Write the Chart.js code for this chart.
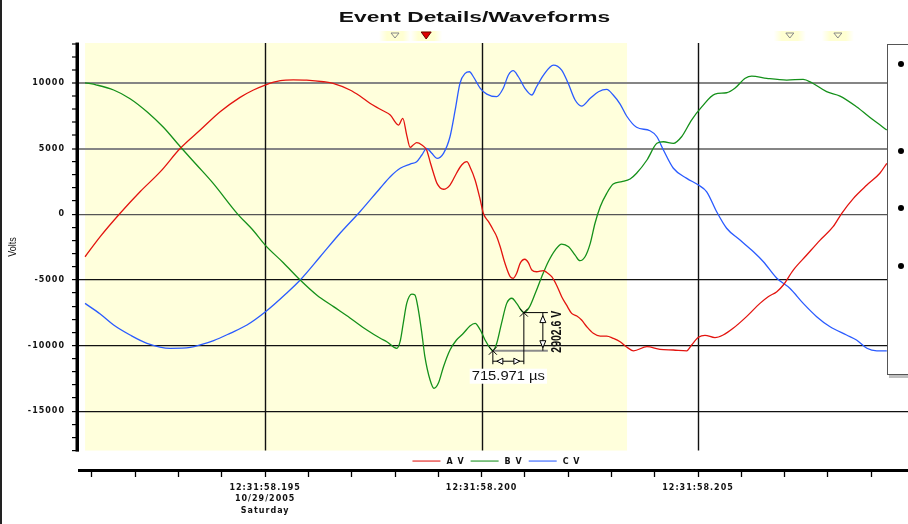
<!DOCTYPE html>
<html>
<head>
<meta charset="utf-8">
<script src="https://cdn.jsdelivr.net/npm/chart.js@4.4.1/dist/chart.umd.min.js"></script>
<style>
  html, body { margin: 0; padding: 0; background: #fff; overflow: hidden; }
  #c { display: block; }
</style>
</head>
<body>
<canvas id="c" width="908" height="524"></canvas>
<script>
// Time values are milliseconds after 12:31:58.000; voltages in volts.
const aTime = [190.84,191.19,191.65,192.11,192.58,193.04,193.50,193.96,194.42,194.73,195.00,195.35,195.65,195.96,196.35,196.57,196.96,197.19,197.42,197.66,197.89,198.08,198.18,198.27,198.35,198.42,198.50,198.62,198.73,198.81,198.89,198.97,199.12,199.27,199.42,199.54,199.66,199.73,199.85,199.97,200.04,200.16,200.27,200.35,200.43,200.54,200.66,200.73,200.81,200.89,201.00,201.08,201.16,201.27,201.43,201.50,201.62,201.73,201.85,201.96,202.08,202.20,202.31,202.43,202.58,202.74,202.89,203.04,203.20,203.35,203.51,203.82,204.12,204.43,204.74,204.85,205.01,205.16,205.39,205.58,205.81,206.12,206.43,206.62,206.82,206.97,207.20,207.51,207.82,208.12,208.32,208.59,208.90,209.20,209.36];
const aVolts = [-3240,-1710,70,1710,3240,5020,6410,7800,8900,9460,9840,10170,10230,10210,10090,9970,9460,9000,8450,7990,7550,6790,7300,6030,5090,5270,5450,5270,4890,4000,3120,2350,1900,2220,3120,3750,4000,3620,2610,1080,70,-570,-1200,-1710,-2480,-3740,-4760,-4880,-4500,-3740,-3430,-3690,-4250,-4380,-4300,-4420,-4760,-5390,-6280,-6910,-7550,-7750,-8060,-8570,-9070,-9280,-9280,-9450,-9710,-10110,-10400,-10090,-10290,-10340,-10400,-9960,-9370,-9220,-9400,-9200,-8690,-7800,-6790,-6280,-5900,-5390,-4250,-3110,-1970,-950,70,1210,2220,3120,3880];

const bTime = [190.84,191.11,191.50,191.88,192.29,192.65,193.04,193.42,193.80,194.35,194.73,195.00,195.42,195.81,196.19,196.58,196.96,197.35,197.66,197.81,198.04,198.12,198.19,198.27,198.39,198.46,198.54,198.62,198.69,198.81,198.90,199.00,199.12,199.27,199.42,199.58,199.73,199.85,199.97,200.08,200.20,200.26,200.35,200.46,200.58,200.70,200.81,200.98,201.10,201.24,201.39,201.54,201.70,201.85,202.01,202.16,202.27,202.39,202.51,202.62,202.74,202.89,203.04,203.24,203.43,203.58,203.82,204.05,204.20,204.43,204.62,204.85,205.09,205.39,205.66,205.85,206.09,206.24,206.59,207.05,207.43,207.63,207.97,208.28,208.66,209.05,209.36];
const bVolts = [10010,9840,9460,8800,7750,6620,5140,3750,2350,70,-1260,-2350,-3690,-5010,-6150,-7040,-7900,-8820,-9450,-9710,-10210,-9660,-8310,-6790,-6080,-6150,-7300,-9070,-10850,-12630,-13260,-12880,-11610,-10340,-9580,-9070,-8510,-8310,-8820,-9580,-10210,-10395,-9830,-8310,-6790,-6400,-6790,-7490,-7100,-6020,-4760,-3620,-2730,-2270,-2480,-3110,-3540,-3240,-2220,-690,570,1590,2300,2480,2680,3120,4130,5400,5520,5400,5900,7170,8190,9150,9250,9590,10350,10520,10350,10220,10270,10010,9330,9000,8190,7170,6410];

const cTime = [190.84,191.19,191.50,191.88,192.27,192.81,193.27,193.50,193.81,194.19,194.58,195.00,195.50,195.81,196.27,196.73,197.19,197.66,197.89,198.12,198.35,198.50,198.62,198.73,198.85,198.97,199.12,199.27,199.39,199.50,199.62,199.72,199.81,199.97,200.12,200.35,200.50,200.62,200.73,200.85,201.00,201.16,201.27,201.43,201.66,201.85,202.00,202.16,202.31,202.51,202.70,202.89,203.04,203.20,203.35,203.58,203.89,204.05,204.20,204.43,204.74,205.01,205.20,205.43,205.66,205.97,206.28,206.51,206.82,207.12,207.43,207.74,208.05,208.43,208.66,208.90,209.13,209.36];
const cVolts = [-6790,-7600,-8440,-9200,-9830,-10210,-10140,-9960,-9630,-9070,-8440,-7450,-6000,-5010,-3240,-1450,190,2000,2860,3500,3820,4000,4510,5020,4640,4260,4640,5900,7940,9970,10730,10850,10470,9590,9150,8950,9590,10600,10930,10470,9590,9080,9710,10600,11360,10980,9970,8700,8240,8830,9330,9510,9080,8390,7480,6620,6360,5900,4890,3500,2730,2220,1710,190,-1070,-1970,-2860,-3620,-4880,-5640,-6790,-7800,-8570,-9200,-9580,-10210,-10400,-10400];

const seriesNames = ['A V', 'B V', 'C V'];

// Time axis: labelled ticks and their text
const xLabelMs = [195, 200, 205];
const xLabelText = [['12:31:58.195', '10/29/2005', 'Saturday'], ['12:31:58.200'], ['12:31:58.205']];
const xTickFirst = 191, xTickLast = 209;           // minor tick every 1 ms
const xRange = [190.70, 209.85];

// Voltage axis
const yTickFirst = -18000, yTickLast = 13000;      // minor tick every 1000 V
const yLabelStep = 5000;
const yRange = [-19480, 13040];

// Shaded capture window and cursor markers along the top
const highlightMs = [190.84, 203.36];
const cursorMs = [198.00, 198.72, 207.12, 208.23];
const cursorActive = [false, true, false, false];

// Delta measurement on phase B
const measStartMs = 200.26;
const measStartV = -10395;
const measDtUs = 715.971;
const measDv = 2902.6;

const colors = ['#e3140f', '#14901a', '#2a5bff'];
const TICK_FONT = '"DejaVu Sans", "Liberation Sans", Arial, sans-serif';
const TEXT_FONT = '"Liberation Sans", Arial, sans-serif';

function range(a, b, step) { const out = []; for (let v = a; v <= b; v += step) out.push(v); return out; }
function pts(ts, vs) { return ts.map((t, i) => ({ x: t, y: vs[i] })); }

function scaledText(ctx, text, x, y, font, sx, align, rot) {
  ctx.save();
  ctx.translate(x, y);
  ctx.scale(sx, 1);
  if (rot) ctx.rotate(rot);
  ctx.font = font;
  ctx.textAlign = align || 'center';
  ctx.textBaseline = 'middle';
  ctx.fillText(text, 0, 0);
  ctx.restore();
}

function line(ctx, x1, y1, x2, y2) { ctx.beginPath(); ctx.moveTo(x1, y1); ctx.lineTo(x2, y2); ctx.stroke(); }
function tri(ctx, p) { ctx.beginPath(); ctx.moveTo(p[0], p[1]); ctx.lineTo(p[2], p[3]); ctx.lineTo(p[4], p[5]); ctx.closePath(); }

const backdrop = {
  id: 'backdrop',
  beforeDraw(chart) {
    const { ctx, chartArea: a, scales: { x, y } } = chart;
    ctx.save();
    ctx.fillStyle = '#fff';
    ctx.fillRect(0, 0, chart.width, chart.height);
    const x0 = x.getPixelForValue(highlightMs[0]), x1 = x.getPixelForValue(highlightMs[1]);
    const yb = y.getPixelForValue(yTickFirst);
    ctx.fillStyle = '#ffffdc';
    ctx.fillRect(x0, a.top, x1 - x0, yb - a.top);
    ctx.restore();
    ctx.letterSpacing = '1px';
  },
  beforeDatasetsDraw(chart) {
    const { ctx, chartArea: a, scales: { x, y } } = chart;
    const yb = y.getPixelForValue(yTickFirst);
    ctx.save();
    ctx.strokeStyle = '#111';
    ctx.lineWidth = 1.4;
    xLabelMs.forEach(t => { const px = Math.round(x.getPixelForValue(t)) + 0.5; line(ctx, px, a.top, px, yb); });
    ctx.restore();
  },
  afterDraw(chart) {
    const { ctx, chartArea: a, scales: { x, y } } = chart;
    ctx.save();
    ctx.letterSpacing = '0px';

    // page frame on the left
    ctx.fillStyle = '#222';
    ctx.fillRect(0, 0, 2, chart.height);

    // voltage axis line
    const yTop = y.getPixelForValue(yTickLast), yBot = y.getPixelForValue(yTickFirst);
    ctx.fillStyle = '#000';
    ctx.fillRect(a.left - 3.5, yTop - 1, 3.5, yBot - yTop + 2);

    // title
    ctx.fillStyle = '#111';
    scaledText(ctx, 'Event Details/Waveforms', 474.5, 17.5, 'bold 15.5px ' + TEXT_FONT, 1.47, 'center');

    // axis name
    scaledText(ctx, 'Volts', 12.5, (yTop + yBot) / 2, '9px ' + TEXT_FONT, 1.3, 'center', -Math.PI / 2);

    // legend between plot and time axis
    ctx.font = 'bold 8px ' + TICK_FONT;
    ctx.letterSpacing = '1px';
    const items = chart.data.datasets.map(ds => ({ label: ds.label, color: ds.borderColor, w: ctx.measureText(ds.label).width }));
    const total = items.reduce((s, it) => s + 28 + 6 + it.w + 6, 0) - 6;
    let lx = (a.left + a.right) / 2 + 3 - total / 2;
    const ly = yBot + 10.5;
    items.forEach(it => {
      ctx.strokeStyle = it.color;
      ctx.globalAlpha = 0.7;
      ctx.lineWidth = 1.5;
      line(ctx, lx, ly, lx + 28, ly);
      ctx.globalAlpha = 1;
      ctx.fillStyle = '#111';
      ctx.textAlign = 'left';
      ctx.textBaseline = 'middle';
      ctx.fillText(it.label, lx + 34, ly + 0.5);
      lx += 28 + 6 + it.w + 6;
    });
    ctx.letterSpacing = '0px';

    // cursor markers above the plot
    cursorMs.forEach((t, i) => {
      const px = x.getPixelForValue(t);
      const g = ctx.createLinearGradient(px - 16, 0, px + 16, 0);
      g.addColorStop(0, 'rgba(255,255,210,0)');
      g.addColorStop(0.25, 'rgba(255,255,210,1)');
      g.addColorStop(0.75, 'rgba(255,255,210,1)');
      g.addColorStop(1, 'rgba(255,255,210,0)');
      ctx.fillStyle = g;
      ctx.fillRect(px - 16, a.top - 12, 32, 10);
      if (cursorActive[i]) {
        tri(ctx, [px - 5, a.top - 11, px + 5, a.top - 11, px, a.top - 4]);
        ctx.fillStyle = '#e00000';
        ctx.fill();
        ctx.strokeStyle = '#600';
        ctx.lineWidth = 1;
        ctx.stroke();
      } else {
        tri(ctx, [px - 4, a.top - 10, px + 4, a.top - 10, px, a.top - 5]);
        ctx.strokeStyle = '#888';
        ctx.lineWidth = 1;
        ctx.stroke();
      }
    });

    // delta measurement
    const t2 = measStartMs + measDtUs / 1000, v2 = measStartV + measDv;
    const x1 = x.getPixelForValue(measStartMs), y1 = y.getPixelForValue(measStartV);
    const x2 = x.getPixelForValue(t2), y2 = y.getPixelForValue(v2);
    const xr = x2 + 24, xd = x2 + 19, yd = y1 + 10.5;
    ctx.strokeStyle = '#8c8c8c'; ctx.lineWidth = 2;
    line(ctx, x1, y1, xr, y1);
    ctx.strokeStyle = '#000'; ctx.lineWidth = 1;
    line(ctx, x2, y2, xr, y2);
    line(ctx, x1, y1, x1, yd + 3);
    line(ctx, x2, y2, x2, yd + 3);
    line(ctx, x1, yd, x2, yd);
    line(ctx, xd, y2, xd, y1);
    ctx.fillStyle = '#fff';
    [[x1 + 4, yd, x1 + 10, yd - 3, x1 + 10, yd + 3], [x2 - 4, yd, x2 - 10, yd - 3, x2 - 10, yd + 3],
     [xd, y2 + 3, xd - 3, y2 + 10, xd + 3, y2 + 10], [xd, y1 - 3, xd - 3, y1 - 10, xd + 3, y1 - 10]]
      .forEach(p => { tri(ctx, p); ctx.fill(); ctx.stroke(); });
    [[x1, y1], [x2, y2]].forEach(([px, py]) => { line(ctx, px - 4, py - 4, px + 4, py + 4); line(ctx, px - 4, py + 4, px + 4, py - 4); });
    ctx.fillStyle = '#111';
    scaledText(ctx, measDv.toFixed(1) + ' V', x2 + 33.5, (y1 + y2) / 2, 'bold 10.5px ' + TEXT_FONT, 1.35, 'center', -Math.PI / 2);
    const dtLabel = measDtUs.toFixed(3) + ' \u00b5s';
    ctx.font = '12.5px ' + TEXT_FONT;
    const lw = ctx.measureText(dtLabel).width * 1.18;
    const lcx = (x1 + x2) / 2, lcy = yd + 15;
    ctx.fillStyle = '#fff';
    ctx.fillRect(lcx - lw / 2 - 2, lcy - 7.5, lw + 4, 15);
    ctx.fillStyle = '#111';
    scaledText(ctx, dtLabel, lcx, lcy, '12.5px ' + TEXT_FONT, 1.18, 'center');

    // series list panel at the right edge
    const bx = a.right - 21, by = a.top + 1, bh = 330;
    ctx.fillStyle = 'rgba(0,0,0,0.25)';
    ctx.fillRect(bx + 2, by + 2, 40, bh + 2);
    ctx.fillStyle = '#fff';
    ctx.fillRect(bx, by, 40, bh);
    ctx.strokeStyle = '#555';
    ctx.lineWidth = 1;
    ctx.strokeRect(bx + 0.5, by + 0.5, 40, bh);
    ctx.fillStyle = '#000';
    [20, 107, 164, 222].forEach(dy => { ctx.beginPath(); ctx.arc(bx + 14, by + dy, 3, 0, Math.PI * 2); ctx.fill(); });

    ctx.restore();
  }
};

const ds = (i, t, v) => ({
  label: seriesNames[i], data: pts(t, v), borderColor: colors[i], backgroundColor: colors[i],
  borderWidth: 1.3, pointRadius: 0, cubicInterpolationMode: 'monotone', fill: false
});

new Chart(document.getElementById('c'), {
  type: 'line',
  data: { datasets: [ds(0, aTime, aVolts), ds(1, bTime, bVolts), ds(2, cTime, cVolts)] },
  options: {
    responsive: false,
    devicePixelRatio: 1,
    animation: false,
    layout: { padding: { top: 43, left: 0, right: 0, bottom: 0 } },
    plugins: { legend: { display: false }, tooltip: { enabled: false }, title: { display: false } },
    scales: {
      x: {
        type: 'linear', position: 'bottom', min: xRange[0], max: xRange[1],
        afterFit: s => { s.height = 54; },
        afterBuildTicks: s => { s.ticks = range(xTickFirst, xTickLast, 1).map(v => ({ value: v })); },
        ticks: {
          autoSkip: false, maxRotation: 0, padding: 5, color: '#111',
          font: { family: TICK_FONT, size: 8, weight: 'bold', lineHeight: 1.45 },
          callback: v => { const k = xLabelMs.indexOf(v); return k >= 0 ? xLabelText[k] : ''; }
        },
        grid: { drawOnChartArea: false, drawTicks: true, tickLength: 7, tickColor: '#000', tickWidth: 1.3 },
        border: { display: true, color: '#000', width: 3 }
      },
      y: {
        type: 'linear', position: 'left', min: yRange[0], max: yRange[1],
        afterFit: s => { s.width = 79; },
        afterBuildTicks: s => { s.ticks = range(yTickFirst, yTickLast, 1000).map(v => ({ value: v })); },
        ticks: {
          autoSkip: false, padding: 7, color: '#111',
          font: { family: TICK_FONT, size: 8, weight: 'bold' },
          callback: v => (v % yLabelStep === 0 ? String(v) : '')
        },
        grid: {
          drawTicks: true, tickLength: 7, tickColor: '#000', tickWidth: 1.2,
          color: c => {
            const v = c.tick && c.tick.value;
            if (v === undefined || v % yLabelStep !== 0) return 'rgba(0,0,0,0)';
            return v >= 5000 ? '#858585' : (v === 0 ? '#555' : '#111');
          },
          lineWidth: c => (c.tick && c.tick.value >= 5000 ? 2 : 1.2)
        },
        border: { display: false }
      }
    }
  },
  plugins: [backdrop]
});
</script>
</body>
</html>
